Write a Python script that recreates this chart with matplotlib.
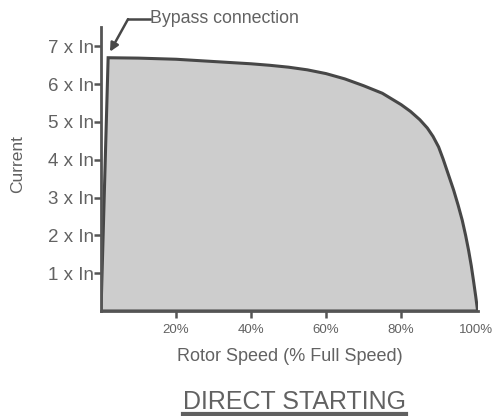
import matplotlib
matplotlib.use("Agg")
import matplotlib.pyplot as plt
from matplotlib.lines import Line2D

plt.rcParams["font.family"] = ["Liberation Sans", "DejaVu Sans"]

# rotor speed (% full speed) vs starting current (x In)
speed = [0, 1.9, 10, 20, 30, 40, 45, 50, 55, 60, 65, 70, 75, 80, 82.5, 85,
         87, 88.5, 90, 91.2, 92.5, 94, 95.2, 96.3, 97.2, 98, 98.7, 99.3, 99.9, 100.4]
current = [0, 6.7, 6.69, 6.66, 6.6, 6.54, 6.5, 6.45, 6.38, 6.28, 6.14, 5.96, 5.76, 5.46, 5.28, 5.06,
           4.84, 4.62, 4.34, 4.02, 3.64, 3.2, 2.8, 2.4, 2.0, 1.6, 1.2, 0.8, 0.38, 0]

x_ticks = [20, 40, 60, 80, 100]
x_labels = ["20%", "40%", "60%", "80%", "100%"]
y_ticks = [1, 2, 3, 4, 5, 6, 7]
y_labels = [f"{v} x In" for v in y_ticks]

edge = "#474747"
txt = "#626262"

fig = plt.figure(figsize=(5.01, 4.16), dpi=100)
ax = fig.add_axes([0.2016, 0.2524, 0.7525, 0.6815])

ax.fill(speed, current, facecolor="#cdcdcd", edgecolor=edge, lw=2.2,
        joinstyle="miter", zorder=2)

ax.set_xlim(0, 100.5)
ax.set_ylim(0, 7.5)

for s in ["top", "right"]:
    ax.spines[s].set_visible(False)
for s in ["left", "bottom"]:
    ax.spines[s].set_color("#555555")
    ax.spines[s].set_linewidth(2.0)
    ax.spines[s].set_zorder(3)

ax.set_xticks(x_ticks)
ax.set_xticklabels(x_labels)
ax.set_yticks(y_ticks)
ax.set_yticklabels(y_labels)
ax.tick_params(axis="x", length=5, width=1.8, color="#555555", pad=4,
               labelsize=9.5, labelcolor=txt)
ax.tick_params(axis="y", length=5, width=1.8, color="#555555", pad=0,
               labelsize=13.5, labelcolor=txt)
ax.xaxis.get_major_ticks()[-1].tick1line.set_visible(False)

ax.set_xlabel("Rotor Speed (% Full Speed)", fontsize=13, color=txt, labelpad=9)
ax.set_ylabel("Current", fontsize=12.5, color=txt)
ax.yaxis.set_label_coords(-0.2016, 0.518)

# bypass connection callout
ax.plot([13.0, 7.2], [7.72, 7.72], color=edge, lw=1.8, clip_on=False)
ax.annotate("", xy=(2.4, 6.86), xytext=(7.2, 7.72),
            arrowprops=dict(arrowstyle="-|>,head_length=0.5,head_width=0.25",
                            color=edge, lw=1.8, shrinkA=0, shrinkB=0),
            annotation_clip=False)
ax.text(13.0, 7.75, "Bypass connection", fontsize=12.8, color=txt,
        ha="left", va="center", clip_on=False)

title = fig.text(0.587, 0.016, "DIRECT STARTING", fontsize=18, color=txt,
                 ha="center", va="baseline")
fig.canvas.draw()
bb = title.get_window_extent().transformed(fig.transFigure.inverted())
fig.add_artist(Line2D([bb.x0, bb.x1], [0.005, 0.005], color="#606060", lw=3.0))

fig.savefig("out.png", dpi=100)
